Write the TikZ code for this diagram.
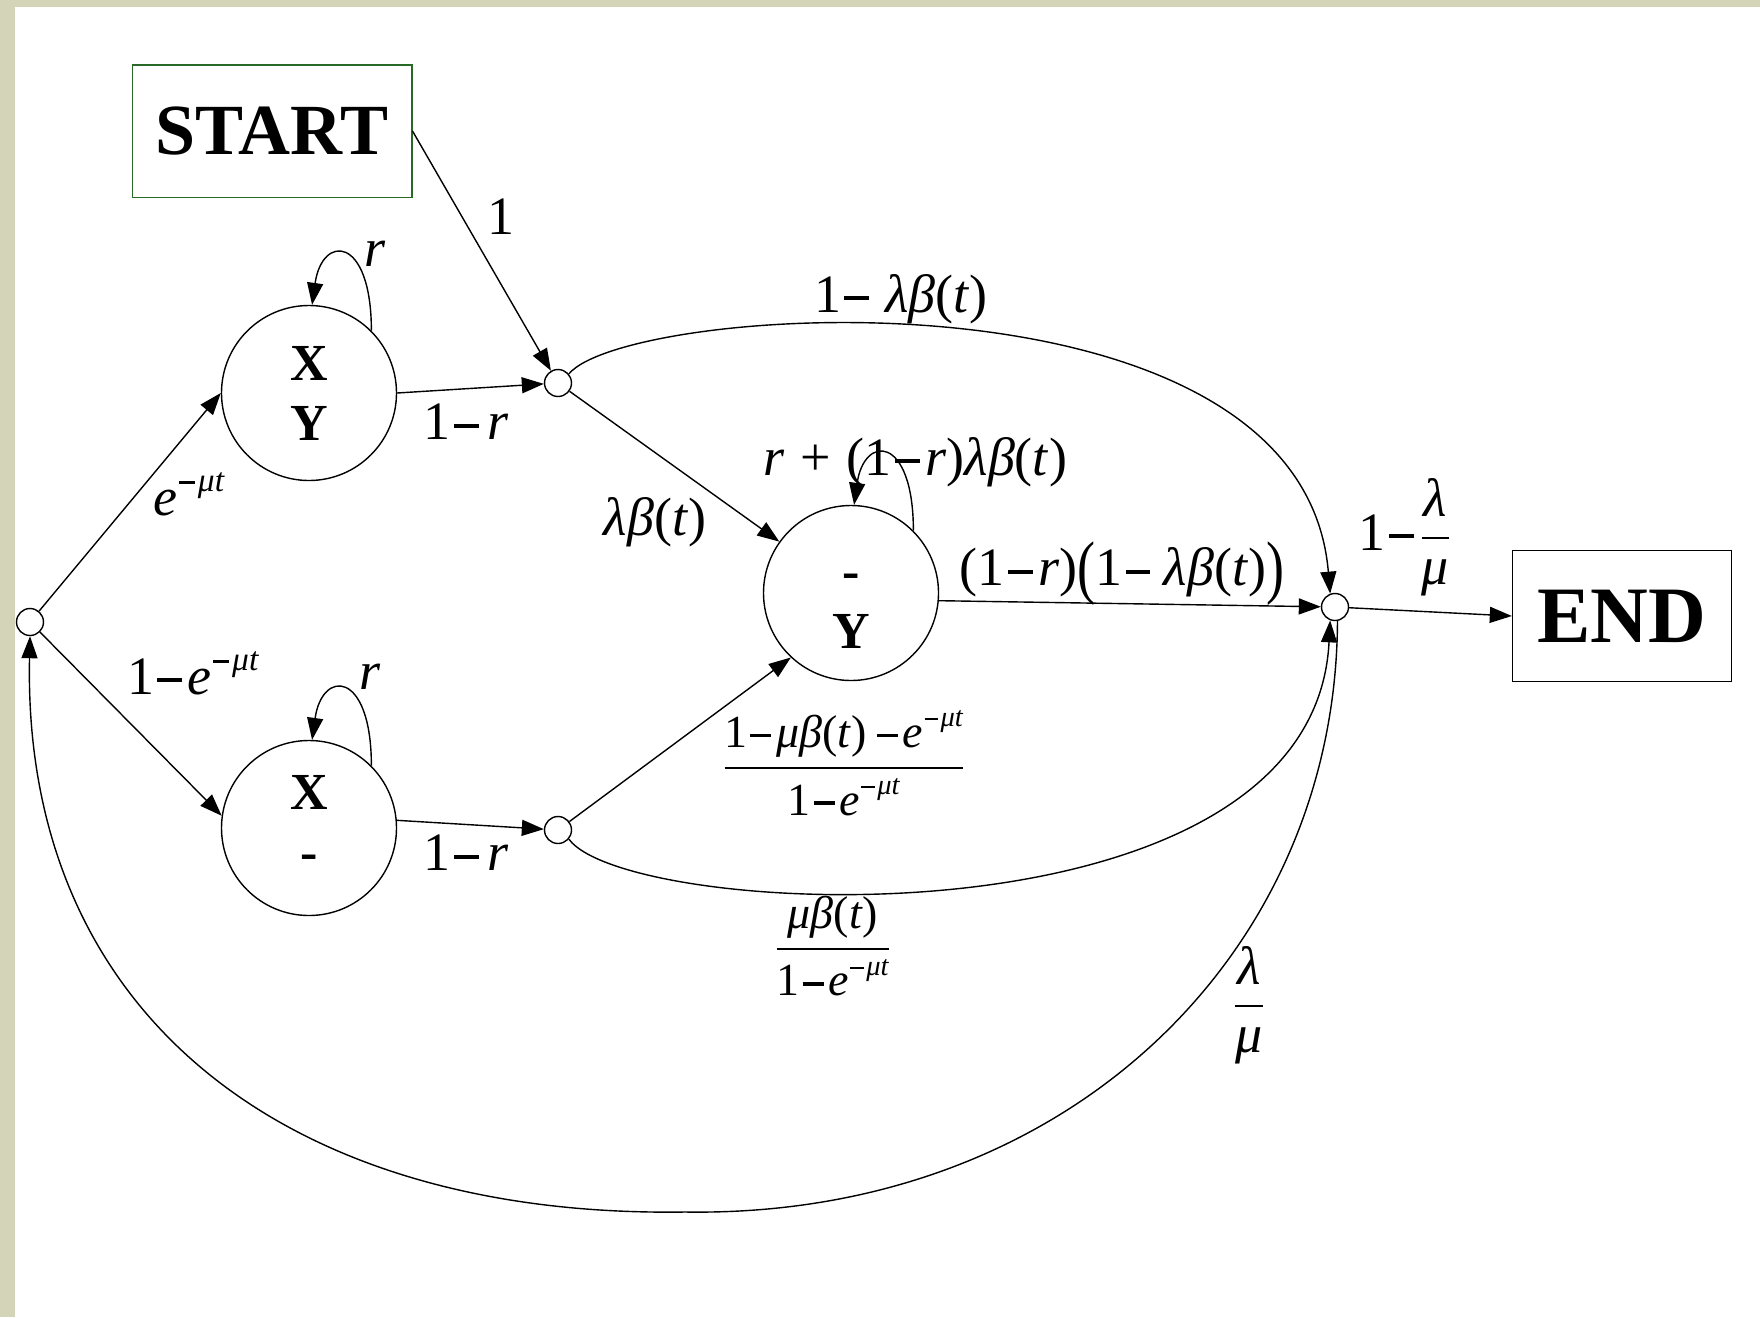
\documentclass[tikz,border=0pt]{standalone}
\usepackage{fontspec}
\setmainfont{Liberation Serif}
\usepackage{graphicx}
\usepackage{amsmath}
\usetikzlibrary{positioning}
\usetikzlibrary{calc}
\usetikzlibrary{arrows.meta}
\definecolor{framebeige}{RGB}{212,213,184}
\definecolor{startgreen}{RGB}{40,105,40}
\newcommand{\mn}{\kern.06em\rule[.22em]{.46em}{.075em}\kern.1em}
\newcommand{\sups}[1]{\raisebox{.45em}{\scalebox{.62}{#1}}}
\newcommand{\emu}{\textit{e}\sups{\mn\textit{μt}}}
\newcommand{\lbt}{\textit{λβ}(\textit{t})}
\newcommand{\bigpar}[1]{\raisebox{-.1em}{\scalebox{1}[1.3]{#1}}}

\begin{document}
\begin{tikzpicture}[x=0.5pt, y=-0.5pt, line width=0.7pt,
    state/.style={draw, circle, minimum size=87.5pt, inner sep=0pt, align=center, font=\fontsize{26}{30}\selectfont\bfseries},
    hub/.style={draw, circle, minimum size=13.5pt, inner sep=0pt, fill=white},
    termbox/.style={draw, inner sep=0pt, font=\fontsize{40}{40}\selectfont\bfseries},
    lab/.style={font=\fontsize{27}{30}\selectfont, inner sep=0pt},
    fraclab/.style={font=\fontsize{23}{26}\selectfont, inner sep=0pt},
    arr/.style={-{Triangle[length=11pt,width=8pt]}}]
    \useasboundingbox (0,0) rectangle (1760,1317);
    \fill[framebeige] (0,0) rectangle (1760,1317);
    \fill[white] (15,7) rectangle (1760,1317);

    % states and hubs
    \node[termbox, draw=startgreen, minimum width=139.8pt, minimum height=66.2pt, font=\fontsize{36}{36}\selectfont\bfseries] (start) at (272,131) {START};
    \node[termbox, minimum width=109.5pt, minimum height=65.7pt] (end) at (1622,616) {END};
    \node[hub] (l0) at (30,622) {};
    \node[hub] (j1) at (558,383) {};
    \node[hub] (j2) at (558,830) {};
    \node[hub] (j3) at (1335,607) {};
    \node[state] (xy) at (309,393) {X\\Y};
    \node[state] (xm) at (309,828) {X\\-\rule[-5.6pt]{0pt}{5.6pt}};
    \node[state] (my) at (851,593) {\rule{0pt}{25pt}-\\Y};

    % straight moves
    \draw[arr] (start.east) -- (j1);
    \draw[arr] (l0) -- (xy.west);
    \draw[arr] (l0) -- (xm.172);
    \draw[arr] (xy.east) -- (j1);
    \draw[arr] (xm.5) -- (j2);
    \draw[arr] (j1) -- (my);
    \draw[arr] (j2) -- (my.227);
    \draw[arr] (my.355) -- (j3);
    \draw[arr] (j3) -- (end.west);

    % self loops
    \foreach \s in {xy,xm,my}
        \draw[arr] (\s.45) .. controls ($(\s.45)+(0,-96)$) and ($(\s.88)+(10,-71)$) .. (\s.88);

    % curved moves
    \draw[arr] (j1.40) .. controls (628,303) and (1302,258) .. (j3.110);
    \draw[arr] (j2.-40) .. controls (628,920) and (1313,954) .. (j3.250);
    \draw[arr] (j3.-80) .. controls (1336,954) and (1066,1218) .. (685,1212)
        .. controls (281,1218) and (22,1010) .. (l0.south);

    % labels
    \node[lab] (lstart) at (501,217) {1};
    \node[lab] (lemu) at (189,494) {\emu};
    \node[lab] (lonemu) at (193,673) {1\mn\emu};
    \node[lab] (lrxy) at (375,254) {\textit{r}};
    \node[lab] (lrxm) at (370,677) {\textit{r}};
    \node[lab] (lxy) at (466,422) {1\mn\kern.05em\textit{r}};
    \node[lab] (lxm) at (466,853) {1\mn\kern.05em\textit{r}};
    \node[lab] (ltop) at (901,299) {1\mn\kern.2em\lbt};
    \node[lab] (lloop) at (915,462) {\textit{r}\kern.3em+\kern.3em(1\mn\textit{r})\lbt};
    \node[lab] (lin) at (655,522) {\lbt};
    \node[lab] (lmid) at (1122,574) {(1\mn\textit{r})\bigpar{(}1\mn\kern.15em\lbt\bigpar{)}};
    \node[lab] (lout) at (1405,537) {1\mn$\dfrac{\mbox{\textit{λ}}}{\mbox{\textit{μ}}}$};
    \node[fraclab] (lup) at (844,763) {$\dfrac{\mbox{1\mn\textit{μβ}(\textit{t})\,\mn\emu}}{\mbox{1\mn\emu}}$};
    \node[fraclab] (ldown) at (833,946) {$\dfrac{\mbox{\textit{μβ}(\textit{t})}}{\mbox{1\mn\emu}}$};
    \node[lab] (lback) at (1249,1005) {$\dfrac{\mbox{\textit{λ}}}{\mbox{\textit{μ}}}$};
\end{tikzpicture}
\end{document}
